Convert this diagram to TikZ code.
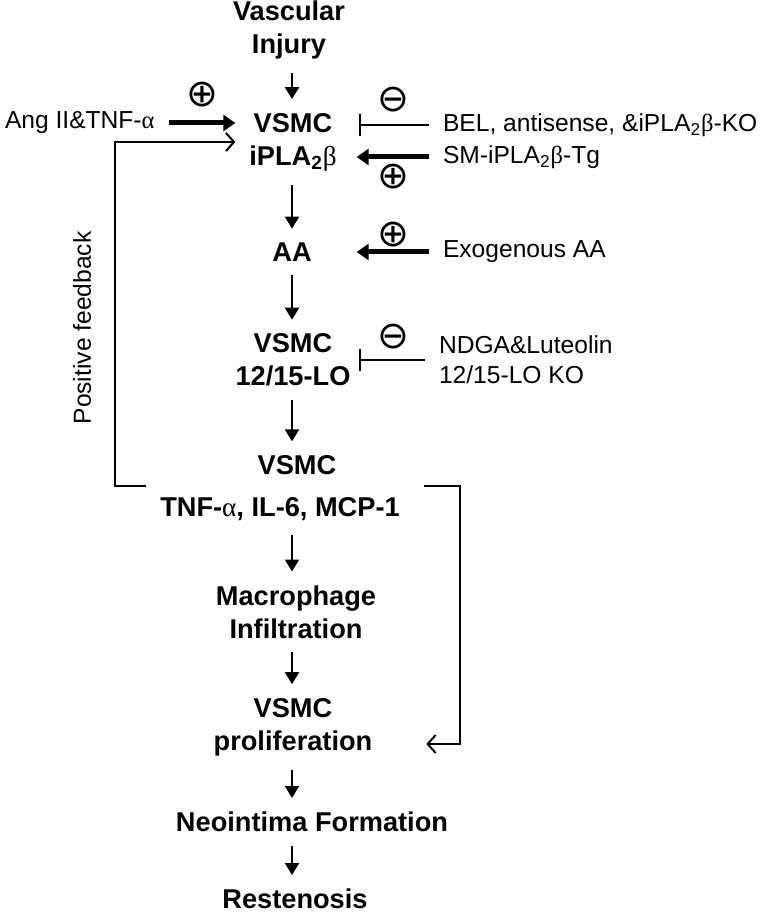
\documentclass[tikz,border=0pt]{standalone}
\usepackage{fontspec}
\setmainfont{Liberation Sans}
\newfontfamily\greekfont{Liberation Serif}
\newfontfamily\signfont{DejaVu Sans}
\usetikzlibrary{arrows.meta,positioning,calc}
\tikzset{
  main/.style  = {font=\fontsize{13.6}{16.5}\selectfont\bfseries, align=center,
                  inner sep=0pt, outer sep=7pt},
  side/.style  = {font=\fontsize{12.3}{15}\selectfont, align=left, anchor=west,
                  inner sep=0pt, outer sep=7pt},
  sign/.style  = {font=\fontsize{19}{19}\selectfont\signfont, inner sep=0pt},
  flow/.style  = {-{Triangle[length=6pt,width=7pt]}, line width=1.1pt},
  push/.style  = {-{Triangle[length=6pt,width=8pt]}, line width=2.5pt},
  block/.style = {-{Bar[width=11pt]}, line width=1pt},
  loop/.style  = {-{Straight Barb[length=4pt,width=9pt]}, line width=1pt},
}
\newcommand{\galpha}{{\greekfont\mdseries α}}
\newcommand{\gbeta}{{\greekfont\mdseries β}}

\begin{document}
\begin{tikzpicture}[x=0.5pt, y=-0.5pt]
      \useasboundingbox (0,0) rectangle (760,913);
      %main pathway
      \node[main] (inj)  at (289,30)  {Vascular\\Injury};
      \node[main] (pla)  at (293,142) {VSMC\\iPLA\textsubscript{2}\gbeta};
      \node[main] (aa)   at (292,252) {AA};
      \node[main] (lo)   at (293,360) {VSMC\\12/15-LO};
      \node[main] (vs)   at (297,465) {VSMC};
      \node[main] (cyto) at (280,509) {TNF-\galpha, IL-6, MCP-1};
      \node[main] (mac)  at (296,612) {Macrophage\\Infiltration};
      \node[main] (pro)  at (293,727) {VSMC\\proliferation};
      \node[main] (neo)  at (312,822) {Neointima Formation};
      \node[main] (res)  at (295,899) {Restenosis};

      \foreach \a/\b in {inj/pla, pla/aa, aa/lo, lo/vs, cyto/mac, mac/pro, pro/neo, neo/res}
        \draw[flow] (\a.south -| aa) -- (\b.north -| aa);

      %modulators
      \node[side] (ang)  at (-9,123)  {Ang II\&TNF-\galpha};
      \node[side] (bel)  at (429,125) {BEL, antisense, \&iPLA\textsubscript{2}\gbeta-KO};
      \node[side] (tg)   at (429,157) {SM-iPLA\textsubscript{2}\gbeta-Tg};
      \node[side] (exo)  at (429,252) {Exogenous AA};
      \node[side] (ndga) at (425,360) {NDGA\&Luteolin\\12/15-LO KO};

      \node[sign] (s_ang)  at (202,95)  {⊕};
      \node[sign] (s_bel)  at (393,100) {⊖};
      \node[sign] (s_tg)   at (393,177) {⊕};
      \node[sign] (s_exo)  at (393,235) {⊕};
      \node[sign] (s_ndga) at (393,337) {⊖};

      \draw[push]  (ang) -- (ang -| pla.west);
      \draw[block, shorten >=4pt] (bel) -- (bel -| pla.east);
      \draw[push, shorten >=3pt]  (tg) -- (tg -| pla.east);
      \draw[push, shorten >=3pt]  (exo) -- (exo -| pla.east);
      \draw[block, shorten >=4pt] (ndga) -- (ndga -| pla.east);

      %feedback loops
      \coordinate (mid) at ($(vs.south)!0.5!(cyto.north)$);
      \coordinate (fbs) at (mid -| cyto.west);
      \draw[loop] (fbs) -- ++(-31,0) |- (pla.west);
      \draw[loop, shorten <=5pt] (cyto.east |- fbs) -- ++(46,0) |- ($(pro.east)+(40,17)$);
      \node[side, rotate=90, anchor=center] (fbl) at (82,328) {Positive feedback};
\end{tikzpicture}
\end{document}
